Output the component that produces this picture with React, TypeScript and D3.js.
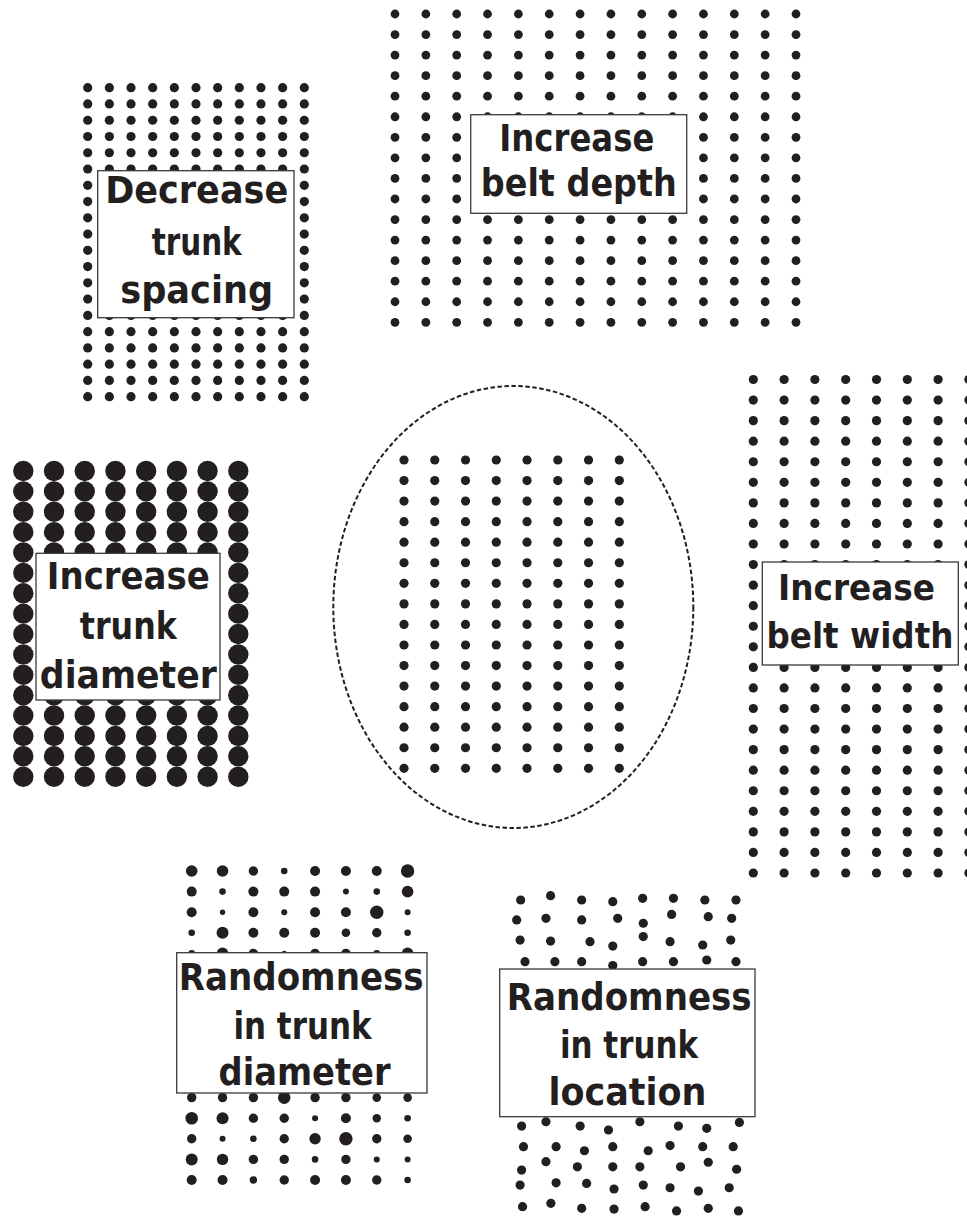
import React from "react";
import * as d3 from "d3";

const W = 967;
const H = 1217;
const INK = "#231f20";

// grid sizes (columns x rows)
const centreCols = 8;
const centreRows = 16;
const spacingCols = 11;
const spacingRows = 20;
const depthCols = 14;
const depthRows = 16;
const widthCols = 8;
const widthRows = 25;
const diameterCols = 8;
const diameterRows = 16;

// randomness in trunk diameter: dot radius per row (null = row hidden under the label)
const randomRadii: (number[] | null)[] = [
    [5.8, 5.8, 4.7, 3.3, 5.0, 5.0, 5.0, 6.7],
    [5.0, 3.3, 5.0, 5.0, 5.0, 3.0, 3.3, 5.8],
    [5.0, 2.7, 5.0, 3.0, 5.0, 5.0, 6.7, 3.0],
    [3.3, 6.0, 5.0, 5.0, 5.0, 4.3, 4.7, 3.3],
    [3.3, 5.8, 4.7, 2.7, 4.7, 4.7, 3.3, 5.8],
    null, null, null, null, null, null,
    [4.7, 4.7, 4.7, 6.3, 4.7, 4.7, 4.3, 4.3],
    [6.3, 6.0, 4.7, 4.7, 3.0, 5.0, 4.2, 3.3],
    [4.7, 3.0, 3.3, 4.7, 5.7, 6.7, 4.7, 4.3],
    [6.0, 5.7, 4.7, 4.7, 3.3, 4.7, 3.0, 3.0],
    [5.0, 5.0, 3.7, 4.7, 5.0, 5.0, 4.7, 3.3],
];

// randomness in trunk location: offsets from the grid, in grid cells
const locationDx: (number[] | null)[] = [
    [-0.01, -0.04, -0.03, -0.02, -0.05, -0.05, -0.03, -0.02],
    [-0.14, -0.19, -0.03, 0.14, -0.03, -0.11, 0.08, -0.16],
    [-0.03, -0.04, 0.24, -0.02, -0.03, -0.16, -0.1, -0.19],
    [0.13, 0.1, -0.03, -0.02, -0.05, -0.05, 0.03, -0.02],
    null, null, null, null, null, null, null,
    [0.02, -0.19, -0.08, -0.16, -0.14, 0.11, 0.03, 0.09],
    [0.08, 0.14, 0.06, -0.02, 0.13, -0.16, -0.1, -0.11],
    [0.02, -0.19, -0.17, -0.02, -0.14, 0.18, 0.08, 0.0],
    [-0.03, 0.14, 0.13, 0.02, -0.03, -0.16, -0.24, -0.24],
    [0.05, -0.03, -0.03, 0.02, 0.03, 0.05, 0.08, 0.06],
];
const locationDy: (number[] | null)[] = [
    [0, -0.21, 0, 0.08, -0.08, -0.08, 0, 0],
    [-0.03, -0.11, -0.03, -0.11, 0.13, -0.3, -0.19, -0.11],
    [-0.05, 0, 0.03, 0.24, -0.22, 0.03, 0.19, -0.05],
    [0, 0, 0, 0.19, 0, 0, -0.08, 0],
    null, null, null, null, null, null, null,
    [0, -0.21, 0, 0.19, -0.21, 0, 0.11, -0.18],
    [0, 0, 0.2, 0, 0.2, -0.05, 0, 0],
    [0.14, -0.27, -0.02, -0.02, -0.02, -0.02, -0.24, 0.1],
    [-0.13, -0.24, -0.21, 0.06, -0.13, 0, 0.16, 0],
    [-0.08, -0.24, 0, 0.04, -0.08, 0.13, 0, 0.13],
];

const spacingLabel = ["Decrease", "trunk", "spacing"];
const depthLabel = ["Increase", "belt depth"];
const diameterLabel = ["Increase", "trunk", "diameter"];
const widthLabel = ["Increase", "belt width"];
const randomDiameterLabel = ["Randomness", "in trunk", "diameter"];
const randomLocationLabel = ["Randomness", "in trunk", "location"];

interface GridProps {
    cols: number;
    rows: number;
    x: [number, number];
    y: [number, number];
    r: number;
    radii?: (number[] | null)[];
    dx?: (number[] | null)[];
    dy?: (number[] | null)[];
}

function DotGrid({cols, rows, x, y, r, radii, dx, dy}: GridProps) {
    const xScale = d3.scaleLinear().domain([0, cols - 1]).range(x);
    const yScale = d3.scaleLinear().domain([0, rows - 1]).range(y);
    const cells = d3.cross(d3.range(rows), d3.range(cols));
    return (
        <g fill={INK}>
            {cells.map(([row, col]) => {
                const ox = dx && dx[row] ? dx[row]![col] : 0;
                const oy = dy && dy[row] ? dy[row]![col] : 0;
                const rr = radii && radii[row] ? radii[row]![col] : r;
                return (
                    <circle
                        key={row + "-" + col}
                        cx={xScale(col + ox)}
                        cy={yScale(row + oy)}
                        r={rr}
                    />
                );
            })}
        </g>
    );
}

interface LabelProps {
    lines: string[];
    box: [number, number, number, number];
    cx: number[];
    baselines: number[];
    widths: number[];
    size?: number;
}

function Label({lines, box, cx, baselines, widths, size = 37}: LabelProps) {
    const [x0, y0, x1, y1] = box;
    return (
        <g>
            <rect x={x0} y={y0} width={x1 - x0} height={y1 - y0}
                  fill="white" stroke="#3a3a3a" strokeWidth={1.3}/>
            {lines.map((t, i) => (
                <text
                    key={i}
                    x={cx[i]}
                    y={baselines[i]}
                    textAnchor="middle"
                    textLength={widths[i]}
                    lengthAdjust="spacingAndGlyphs"
                    fontFamily="'DejaVu Sans', sans-serif"
                    fontWeight="bold"
                    fontSize={size}
                    fill={INK}
                >
                    {t}
                </text>
            ))}
        </g>
    );
}

export default function App() {
    return (
        <svg
            width={W}
            height={H}
            style={{position: "absolute", left: 0, top: 0, background: "white", display: "block"}}
        >
            {/* decrease trunk spacing */}
            <DotGrid cols={spacingCols} rows={spacingRows} x={[87.7, 304.3]} y={[87.7, 396.7]} r={4.6}/>
            <Label lines={spacingLabel} box={[97.7, 170.7, 294, 317.7]}
                   cx={[196.7, 196.7, 196.7]} baselines={[203.3, 255.3, 302.7]} widths={[183, 90, 153]}/>

            {/* increase belt depth */}
            <DotGrid cols={depthCols} rows={depthRows} x={[395, 796]} y={[14, 322.3]} r={4.4}/>
            <Label lines={depthLabel} box={[470.7, 114.7, 686.7, 213.3]}
                   cx={[576.8, 578.8]} baselines={[150.7, 196]} widths={[155, 196]}/>

            {/* reference stand */}
            <ellipse cx={513.3} cy={607} rx={180} ry={221} fill="none" stroke={INK}
                     strokeWidth={2} strokeDasharray="4.5 2.5"/>
            <DotGrid cols={centreCols} rows={centreRows} x={[404, 619.3]} y={[460, 768.3]} r={4.6}/>

            {/* increase trunk diameter */}
            <DotGrid cols={diameterCols} rows={diameterRows} x={[23.3, 238.3]} y={[471, 776.7]} r={10.2}/>
            <Label lines={diameterLabel} box={[36, 553.3, 220, 700]}
                   cx={[128.3, 128.3, 128.3]} baselines={[589, 638.5, 688]} widths={[163, 97, 177]}/>

            {/* increase belt width */}
            <DotGrid cols={widthCols} rows={widthRows} x={[753.3, 968.9]} y={[379.5, 873]} r={4.6}/>
            <Label lines={widthLabel} box={[762.3, 562, 958.3, 665]}
                   cx={[856.5, 860]} baselines={[600, 648]} widths={[157, 187]} size={35}/>

            {/* randomness in trunk diameter */}
            <DotGrid cols={8} rows={16} x={[191.7, 407.6]} y={[871, 1180]} r={4.6} radii={randomRadii}/>
            <Label lines={randomDiameterLabel} box={[176.7, 952.7, 427, 1093]}
                   cx={[301.2, 302.5, 304.5]} baselines={[989.7, 1038.7, 1084.7]} widths={[245, 138, 172]}/>

            {/* randomness in trunk location */}
            <DotGrid cols={8} rows={16} x={[521, 736.6]} y={[900, 1208.3]} r={4.6}
                     dx={locationDx} dy={locationDy}/>
            <Label lines={randomLocationLabel} box={[499.7, 969, 755, 1116.7]}
                   cx={[629.2, 629, 627.5]} baselines={[1010, 1058.3, 1105]} widths={[245, 138, 158]}/>
        </svg>
    );
}
